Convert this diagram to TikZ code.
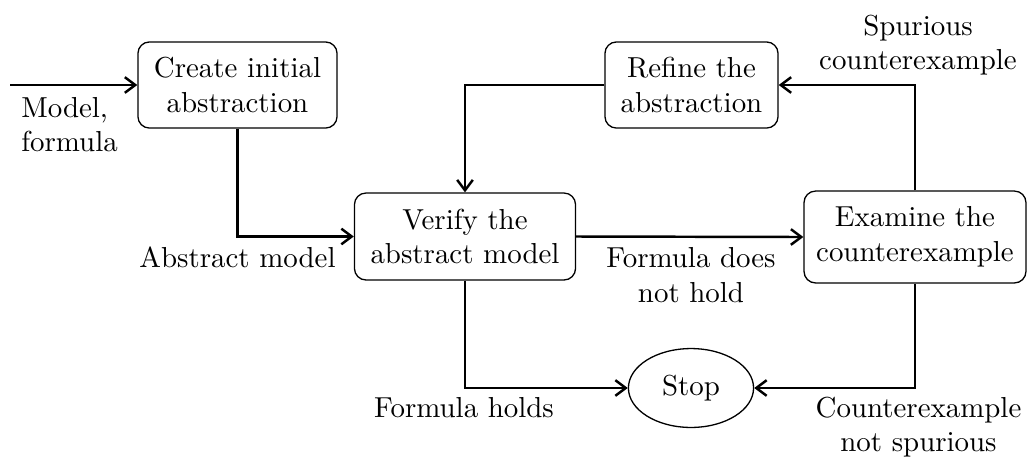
\documentclass[tikz,border=0pt]{standalone}
\usetikzlibrary{shapes.geometric,arrows.meta}
\begin{document}
\begin{tikzpicture}[x=0.346pt,y=-0.346pt,
  procbox/.style={draw,rounded corners=4pt,align=center,inner sep=0pt,line width=0.45pt},
  stopell/.style={draw,ellipse,inner sep=0pt,line width=0.45pt,minimum width=43.3pt,minimum height=27.3pt},
  conn/.style={-{Straight Barb[length=3.6pt,width=5.4pt]},line width=0.85pt},
  lbl/.style={inner sep=0pt,align=center}]
\path[use as bounding box] (0,0) rectangle (1027,459);
\node[procbox,minimum width=68.9pt,minimum height=29.8pt] (create) at (237.5,85) {Create initial\\abstraction};
\node[procbox,minimum width=59.9pt,minimum height=29.8pt] (refine) at (691.5,85) {Refine the\\abstraction};
\node[procbox,minimum width=76.5pt,minimum height=30.1pt] (verify) at (465,236.5) {Verify the\\abstract model};
\node[procbox,minimum width=76.8pt,minimum height=31.8pt] (examine) at (915,237) {Examine the\\counterexample};
\node[stopell] (stop) at (691,388) {Stop};
\coordinate (in) at (10,85);
\draw[conn] (in) -- (create.west);
\draw[conn] (create.south) |- (verify.west);
\draw[conn] (verify.east) -- (examine.west);
\draw[conn] (examine.north) |- (refine.east);
\draw[conn] (refine.west) -| (verify.north);
\draw[conn] (verify.south) |- (stop.west);
\draw[conn] (examine.south) |- (stop.east);
\node[lbl,align=left] (mf) at (69.5,124.5) {Model,\\formula};
\node[lbl] (am) at (237.5,257) {Abstract model};
\node[lbl] (fh) at (464,408) {Formula holds};
\node[lbl] (fdnh) at (691,275) {Formula does\\not hold};
\node[lbl] (sc) at (918,45) {Spurious\\counterexample};
\node[lbl] (cns) at (918.5,427) {Counterexample\\not spurious};
\end{tikzpicture}
\end{document}
